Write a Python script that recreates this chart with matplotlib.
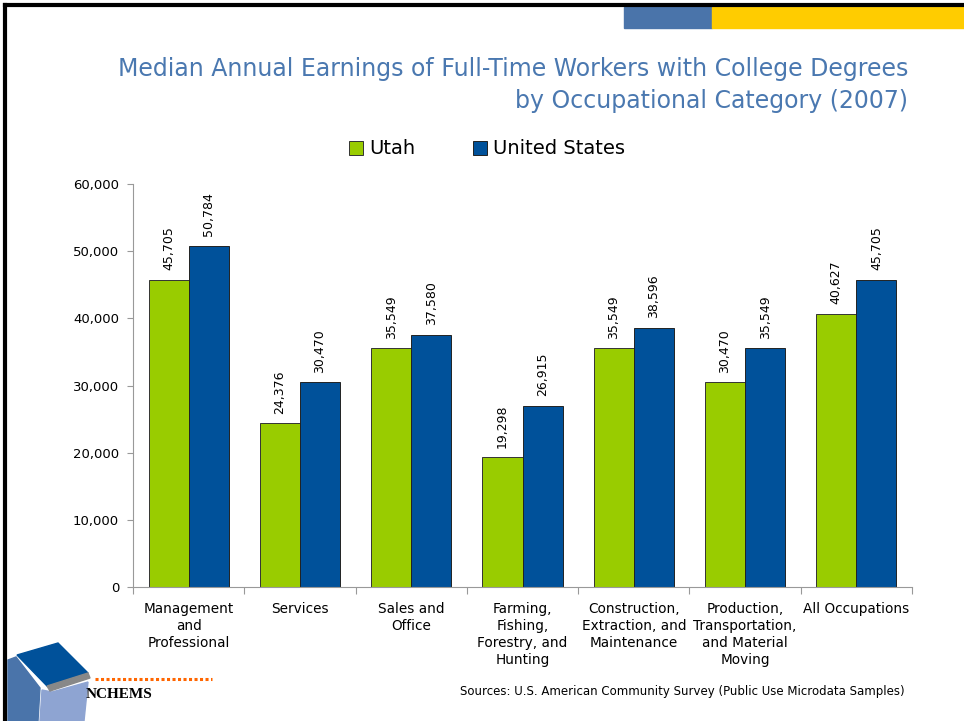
import matplotlib.pyplot as plt
import matplotlib.patches as mpatches
import numpy as np
from matplotlib.ticker import FuncFormatter

categories = ['Management\nand\nProfessional', 'Services', 'Sales and\nOffice',
              'Farming,\nFishing,\nForestry, and\nHunting',
              'Construction,\nExtraction, and\nMaintenance',
              'Production,\nTransportation,\nand Material\nMoving',
              'All Occupations']
utah = [45705, 24376, 35549, 19298, 35549, 30470, 40627]
us = [50784, 30470, 37580, 26915, 38596, 35549, 45705]

green = '#99CC00'
blue = '#00519A'

fig = plt.figure(figsize=(9.64, 7.21), dpi=100)
ax = fig.add_axes([133/964, 1-587/721, (912-133)/964, (587-184)/721])

x = np.arange(len(categories))
w = 0.36
b1 = ax.bar(x - w/2, utah, w, color=green, edgecolor='#333333', linewidth=0.7, label='Utah')
b2 = ax.bar(x + w/2, us, w, color=blue, edgecolor='#222222', linewidth=0.7, label='United States')

for bars, vals in ((b1, utah), (b2, us)):
    for r, v in zip(bars, vals):
        ax.annotate(f'{v:,}', (r.get_x() + r.get_width()/2, v), xytext=(0, 7),
                    textcoords='offset points', rotation=90, ha='center', va='bottom',
                    fontsize=9)

ax.set_xlim(-0.5, len(categories) - 0.5)
ax.set_ylim(0, 60000)
ax.set_yticks(np.arange(0, 60001, 10000))
ax.yaxis.set_major_formatter(FuncFormatter(lambda v, p: f'{int(v):,}'))
ax.set_xticks(np.arange(-0.5, len(categories)))
ax.set_xticklabels([])
ax.set_xticks(x, minor=True)
ax.set_xticklabels(categories, minor=True, fontsize=9.8, va='top', ha='center',
                   linespacing=1.25)
ax.tick_params(axis='x', which='minor', length=0, pad=11)
ax.tick_params(axis='x', which='major', length=5, color='#999999')
ax.tick_params(axis='y', length=4, color='#999999', labelsize=9.5, pad=6)
for s in ('top', 'right'):
    ax.spines[s].set_visible(False)
for s in ('left', 'bottom'):
    ax.spines[s].set_color('#999999')

leg = fig.legend(handles=[b1, b2], loc='center', bbox_to_anchor=(487/964, 1-149/721),
                 ncol=2, frameon=False, fontsize=14, handlelength=0.7, handleheight=0.7,
                 handletextpad=0.3, columnspacing=3.0)

fig.text(908/964, 1-69/721, 'Median Annual Earnings of Full-Time Workers with College Degrees',
         ha='right', va='center', fontsize=17, color='#4A78B0')
fig.text(908/964, 1-101/721, 'by Occupational Category (2007)',
         ha='right', va='center', fontsize=17, color='#4A78B0')

fig.text(905/964, 1-692/721, 'Sources: U.S. American Community Survey (Public Use Microdata Samples)',
         ha='right', va='center', fontsize=8.5)

# slide decorations
fig.add_artist(mpatches.Rectangle((624/964, 1-28/721), 88/964, 21/721, color='#4A74AA',
                                  transform=fig.transFigure))
fig.add_artist(mpatches.Rectangle((712/964, 1-28/721), 252/964, 21/721, color='#FFCC00',
                                  transform=fig.transFigure))
fig.add_artist(plt.Line2D([5/964, 5/964], [0, 1-5/721], color='black', lw=3,
                          transform=fig.transFigure))
fig.add_artist(plt.Line2D([5/964, 1], [1-5/721, 1-5/721], color='black', lw=3,
                          transform=fig.transFigure))

# logo
def poly(pts, c):
    fig.add_artist(mpatches.Polygon([(px/964, 1-py/721) for px, py in pts], closed=True,
                                    color=c, transform=fig.transFigure))
poly([(8, 660), (16, 657), (40, 688), (38, 721), (8, 721)], '#4A74AA')
poly([(42, 690), (52, 692), (88, 682), (84, 721), (40, 721)], '#8EA4D2')
poly([(17, 655), (58, 643), (88, 673), (47, 686)], '#00519A')
poly([(47, 686), (88, 673), (90, 678), (50, 691)], '#888888')
fig.add_artist(plt.Line2D([95/964, 212/964], [1-679/721, 1-679/721], color='#FF6600', lw=2.2,
                          ls=(0, (1, 0.8)), transform=fig.transFigure))
fig.text(119/964, 1-694/721, 'NCHEMS', ha='center', va='center', fontsize=11,
         fontweight='bold', family='Liberation Serif')

fig.savefig('out.png', dpi=100)
